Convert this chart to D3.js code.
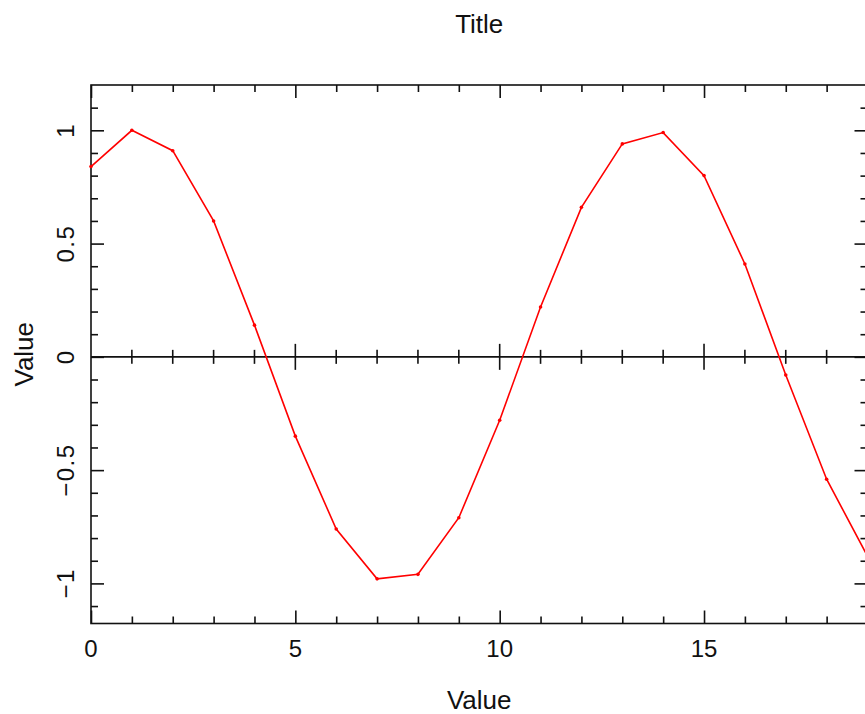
<!DOCTYPE html>
<html>
<head>
<meta charset="utf-8">
<script src="https://cdn.jsdelivr.net/npm/d3@7"></script>
<style>
  body { margin: 0; background: #fff; }
  svg { display: block; font-family: "Liberation Sans", Arial, sans-serif; }
</style>
</head>
<body>
<div id="chart"></div>
<script>
// data
var xValues = [0, 1, 2, 3, 4, 5, 6, 7, 8, 9, 10, 11, 12, 13, 14, 15, 16, 17, 18, 19];
var yValues = [0.84, 1.0, 0.91, 0.60, 0.14, -0.35, -0.76, -0.98, -0.96, -0.71,
  -0.28, 0.22, 0.66, 0.94, 0.99, 0.80, 0.41, -0.08, -0.54, -0.88];
var xTickLabels = [0, 5, 10, 15];
var yTickLabels = [-1, -0.5, 0, 0.5, 1];
var titleText = "Title";
var xTitle = "Value";
var yTitle = "Value";

var W = 865, H = 714;
// plot frame (note: "top" is a reserved window property, so use other names)
var frameL = 91, frameR = 867.5, frameT = 85, frameB = 623.5;

var svg = d3.select("#chart").append("svg")
  .attr("width", W)
  .attr("height", H);

// scales
var x = d3.scaleLinear().domain([0, 19]).range([frameL, frameR]);
var y = d3.scaleLinear().domain([-1.177, 1.2]).range([frameB, frameT]);

var minorX = d3.range(0, 20, 1);
var minorY = d3.range(-11, 12, 1).map(function (d) { return d / 10; });

function isMajorX(d) { return d % 5 === 0; }
function isMajorY(d) { return Math.abs(Math.round(d * 2) - d * 2) < 1e-6; }

var ink = "#111";
var minorLen = 7, majorLen = 13;

// frame axes, ticks pointing inwards
var axBottom = svg.append("g")
  .attr("transform", "translate(0," + frameB + ")")
  .call(d3.axisTop(x).tickValues(minorX).tickFormat("").tickSizeOuter(0)
    .tickSizeInner(minorLen));
var axTop = svg.append("g")
  .attr("transform", "translate(0," + frameT + ")")
  .call(d3.axisBottom(x).tickValues(minorX).tickFormat("").tickSizeOuter(0)
    .tickSizeInner(minorLen));
var axLeft = svg.append("g")
  .attr("transform", "translate(" + frameL + ",0)")
  .call(d3.axisRight(y).tickValues(minorY).tickFormat("").tickSizeOuter(0)
    .tickSizeInner(minorLen));
var axRight = svg.append("g")
  .attr("transform", "translate(" + frameR + ",0)")
  .call(d3.axisLeft(y).tickValues(minorY).tickFormat("").tickSizeOuter(0)
    .tickSizeInner(minorLen));

// lengthen the major ticks
axBottom.selectAll(".tick line").filter(isMajorX).attr("y2", -majorLen);
axTop.selectAll(".tick line").filter(isMajorX).attr("y2", majorLen);
axLeft.selectAll(".tick line").filter(isMajorY).attr("x2", majorLen);
axRight.selectAll(".tick line").filter(isMajorY).attr("x2", -majorLen);

// frame box
svg.append("rect")
  .attr("x", frameL).attr("y", frameT)
  .attr("width", frameR - frameL).attr("height", frameB - frameT)
  .attr("fill", "none").attr("stroke", ink).attr("stroke-width", 1.6);

[axBottom, axTop, axLeft, axRight].forEach(function (g) {
  g.select(".domain").remove();
  g.selectAll(".tick line").attr("stroke", ink).attr("stroke-width", 1.6);
});

// zero axis line with crossing ticks
svg.append("line")
  .attr("x1", x(0)).attr("x2", x(19))
  .attr("y1", y(0)).attr("y2", y(0))
  .attr("stroke", ink).attr("stroke-width", 1.6);
svg.append("g").selectAll("line")
  .data(minorX.filter(function (d) { return d > 0; }))
  .enter().append("line")
  .attr("x1", function (d) { return x(d); })
  .attr("x2", function (d) { return x(d); })
  .attr("y1", function (d) { return y(0) - (isMajorX(d) ? majorLen : minorLen); })
  .attr("y2", function (d) { return y(0) + (isMajorX(d) ? majorLen : minorLen); })
  .attr("stroke", ink).attr("stroke-width", 1.6);

// tick labels
svg.append("g").selectAll("text")
  .data(xTickLabels)
  .enter().append("text")
  .attr("x", function (d) { return x(d); })
  .attr("y", 657)
  .attr("text-anchor", "middle")
  .attr("font-size", 24)
  .attr("fill", ink)
  .text(function (d) { return String(d).replace("-", "\u2212"); });

svg.append("g").selectAll("text")
  .data(yTickLabels)
  .enter().append("text")
  .attr("transform", function (d) { return "translate(74," + y(d) + ") rotate(-90)"; })
  .attr("text-anchor", "middle")
  .attr("font-size", 24)
  .attr("letter-spacing", 1.5)
  .attr("fill", ink)
  .text(function (d) { return String(d).replace("-", "\u2212"); });

// titles
svg.append("text")
  .attr("x", (frameL + frameR) / 2).attr("y", 33)
  .attr("text-anchor", "middle")
  .attr("font-size", 26)
  .attr("fill", ink)
  .text(titleText);

svg.append("text")
  .attr("x", (frameL + frameR) / 2).attr("y", 709)
  .attr("text-anchor", "middle")
  .attr("font-size", 26)
  .attr("fill", ink)
  .text(xTitle);

svg.append("text")
  .attr("transform", "translate(33," + ((frameT + frameB) / 2) + ") rotate(-90)")
  .attr("text-anchor", "middle")
  .attr("font-size", 26)
  .attr("fill", ink)
  .text(yTitle);

// the series
var pts = xValues.map(function (d, i) { return [d, yValues[i]]; });

svg.append("path")
  .datum(pts)
  .attr("fill", "none")
  .attr("stroke", "#ff0000")
  .attr("stroke-width", 1.6)
  .attr("d", d3.line()
    .x(function (d) { return x(d[0]); })
    .y(function (d) { return y(d[1]); }));

svg.append("g").selectAll("circle")
  .data(pts)
  .enter().append("circle")
  .attr("cx", function (d) { return x(d[0]); })
  .attr("cy", function (d) { return y(d[1]); })
  .attr("r", 1.8)
  .attr("fill", "#ff0000");
</script>
</body>
</html>
